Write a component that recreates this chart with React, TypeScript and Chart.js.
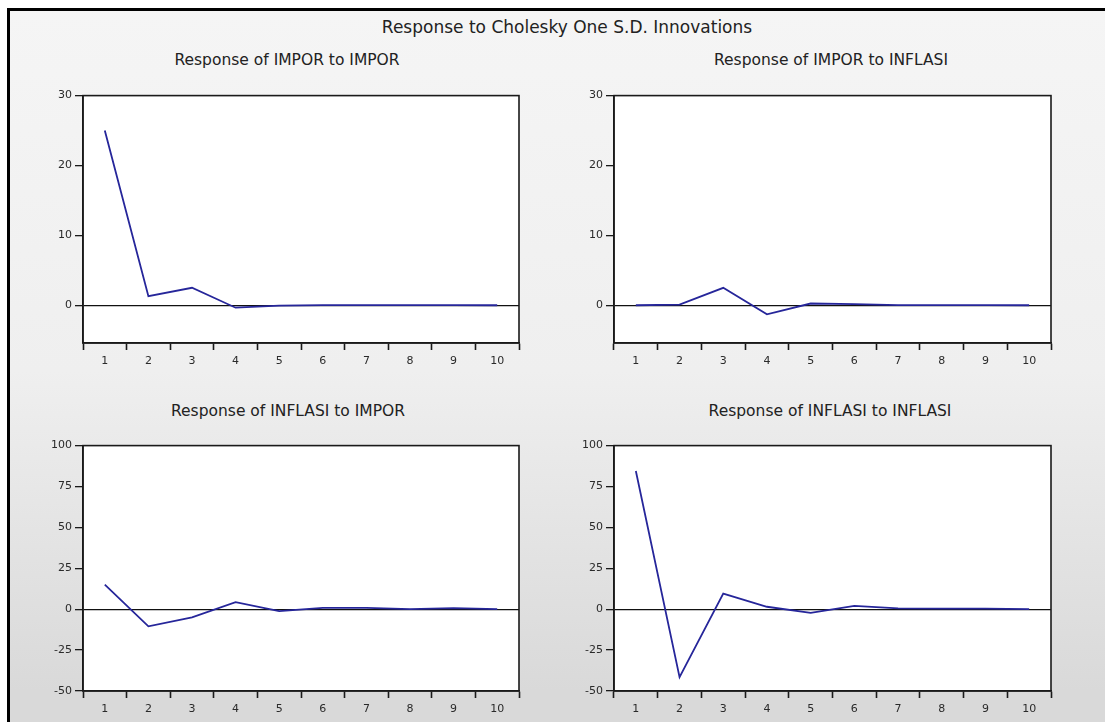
import React, { useEffect, useRef } from "react";
import { Chart, registerables } from "chart.js";

Chart.register(...registerables);

const periods = ["1", "2", "3", "4", "5", "6", "7", "8", "9", "10"];

const imporToImpor = [25.0, 1.3, 2.5, -0.35, -0.05, 0.02, 0.02, 0.01, 0.01, 0.0];
const imporToInflasi = [0.0, 0.1, 2.5, -1.3, 0.25, 0.15, 0.02, 0.01, 0.01, 0.0];
const inflasiToImpor = [15.0, -10.5, -5.0, 4.3, -1.2, 0.8, 0.8, 0.1, 0.7, 0.05];
const inflasiToInflasi = [84.5, -41.5, 9.5, 1.5, -2.3, 2.0, 0.5, 0.4, 0.4, 0.0];

const topTicks = [0, 10, 20, 30];
const bottomTicks = [-50, -25, 0, 25, 50, 75, 100];

const mainTitle = "Response to Cholesky One S.D. Innovations";

const FONT = "'DejaVu Sans', sans-serif";
const LINE_COLOR = "#26269a";

type PanelSpec = {
  title: string;
  data: number[];
  min: number;
  max: number;
  ticks: number[];
  left: number;
  top: number;
  width: number;
  height: number;
  titleX: number;
  titleY: number;
};

const panels: PanelSpec[] = [
  { title: "Response of IMPOR to IMPOR", data: imporToImpor, min: -5.4, max: 30, ticks: topTicks, left: 40, top: 86, width: 487, height: 287, titleX: 287, titleY: 60 },
  { title: "Response of IMPOR to INFLASI", data: imporToInflasi, min: -5.4, max: 30, ticks: topTicks, left: 571, top: 86, width: 488, height: 287, titleX: 831, titleY: 60 },
  { title: "Response of INFLASI to IMPOR", data: inflasiToImpor, min: -50, max: 100, ticks: bottomTicks, left: 40, top: 436, width: 487, height: 285, titleX: 288, titleY: 411 },
  { title: "Response of INFLASI to INFLASI", data: inflasiToInflasi, min: -50, max: 100, ticks: bottomTicks, left: 571, top: 436, width: 488, height: 285, titleX: 830, titleY: 411 },
];

const boxPlugin = {
  id: "boxPlugin",
  beforeDraw(chart: any) {
    const { ctx, chartArea } = chart;
    ctx.save();
    ctx.fillStyle = "#ffffff";
    ctx.fillRect(chartArea.left, chartArea.top, chartArea.right - chartArea.left, chartArea.bottom - chartArea.top);
    ctx.restore();
  },
  afterDraw(chart: any) {
    const { ctx, chartArea } = chart;
    ctx.save();
    ctx.strokeStyle = "#1a1a1a";
    ctx.lineWidth = 1.6;
    ctx.strokeRect(chartArea.left, chartArea.top, chartArea.right - chartArea.left, chartArea.bottom - chartArea.top);
    ctx.restore();
  },
};

function Panel({ spec }: { spec: PanelSpec }) {
  const ref = useRef<HTMLCanvasElement | null>(null);
  useEffect(() => {
    if (!ref.current) return;
    const chart = new Chart(ref.current, {
      type: "line",
      data: {
        labels: periods,
        datasets: [
          {
            data: spec.data,
            borderColor: LINE_COLOR,
            borderWidth: 1.8,
            pointRadius: 0,
            tension: 0,
            fill: false,
          },
        ],
      },
      options: {
        responsive: false,
        maintainAspectRatio: false,
        animation: false,
        layout: { padding: { top: 8, right: 8, left: 0, bottom: 0 } },
        plugins: { legend: { display: false }, title: { display: false }, tooltip: { enabled: false } },
        scales: {
          x: {
            type: "category",
            offset: true,
            grid: {
              offset: true,
              drawOnChartArea: false,
              drawTicks: true,
              tickLength: 7,
              tickColor: "#1a1a1a",
              tickWidth: 1.6,
            },
            border: { display: true, color: "#1a1a1a", width: 1.6 },
            ticks: { font: { family: FONT, size: 11 }, color: "#2a2a2a", padding: 5, maxRotation: 0, autoSkip: false },
            afterFit(scale: any) {
              scale.height = 30;
            },
          },
          y: {
            type: "linear",
            min: spec.min,
            max: spec.max,
            afterBuildTicks(scale: any) {
              scale.ticks = spec.ticks.map((v) => ({ value: v }));
            },
            grid: {
              drawOnChartArea: true,
              color: (ctx: any) => (ctx.tick && ctx.tick.value === 0 ? "#111111" : "rgba(0,0,0,0)"),
              lineWidth: 1.3,
              drawTicks: true,
              tickLength: 8,
              tickColor: "#1a1a1a",
              tickWidth: 1.3,
            },
            border: { display: true, color: "#1a1a1a", width: 1.6 },
            ticks: { font: { family: FONT, size: 11 }, color: "#2a2a2a", padding: 3 },
            afterFit(scale: any) {
              scale.width = 43;
            },
          },
        },
      },
      plugins: [boxPlugin],
    });
    return () => chart.destroy();
  }, [spec]);

  return (
    <>
      <div
        style={{
          position: "absolute",
          left: spec.titleX,
          top: spec.titleY,
          transform: "translate(-50%, -50%)",
          fontFamily: FONT,
          fontSize: 15.5,
          lineHeight: "17px",
          whiteSpace: "nowrap",
          color: "#222",
        }}
      >
        {spec.title}
      </div>
      <canvas
        ref={ref}
        width={spec.width}
        height={spec.height}
        style={{ position: "absolute", left: spec.left, top: spec.top, width: spec.width, height: spec.height }}
      />
    </>
  );
}

export default function App() {
  return (
    <div
      style={{
        position: "absolute",
        left: 0,
        top: 0,
        width: 1105,
        height: 722,
        overflow: "hidden",
        background: "#ffffff",
      }}
    >
      <div
        style={{
          position: "absolute",
          left: 7,
          top: 8,
          width: 1200,
          height: 800,
          borderTop: "3px solid #000",
          borderLeft: "3px solid #000",
          background: "linear-gradient(to bottom, #f5f5f5 0%, #efefef 45%, #e4e4e4 65%, #d9d9d9 85%)",
        }}
      />
      <div
        style={{
          position: "absolute",
          left: 567,
          top: 27,
          transform: "translate(-50%, -50%)",
          fontFamily: FONT,
          fontSize: 17,
          lineHeight: "19px",
          whiteSpace: "nowrap",
          color: "#222",
        }}
      >
        {mainTitle}
      </div>
      {panels.map((p) => (
        <Panel key={p.title} spec={p} />
      ))}
    </div>
  );
}
